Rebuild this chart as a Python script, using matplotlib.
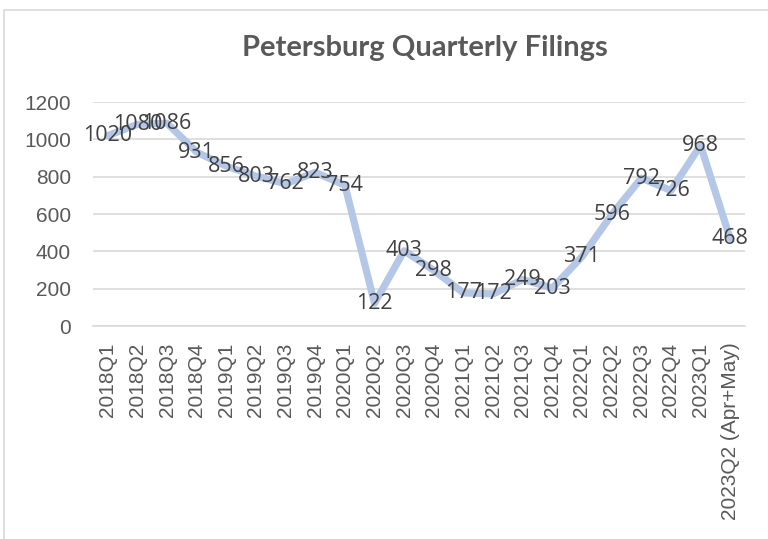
import matplotlib
matplotlib.use("Agg")
import matplotlib.pyplot as plt
from matplotlib.patches import Rectangle

categories = ["2018Q1", "2018Q2", "2018Q3", "2018Q4", "2019Q1", "2019Q2", "2019Q3", "2019Q4",
              "2020Q1", "2020Q2", "2020Q3", "2020Q4", "2021Q1", "2021Q2", "2021Q3", "2021Q4",
              "2022Q1", "2022Q2", "2022Q3", "2022Q4", "2023Q1", "2023Q2 (Apr+May)"]
filings = [1020, 1080, 1086, 931, 856, 803, 762, 823, 754, 122, 403, 298,
           177, 172, 249, 203, 371, 596, 792, 726, 968, 468]
yticks = [0, 200, 400, 600, 800, 1000, 1200]
title = "Petersburg Quarterly Filings"

W, H = 768, 539
fig = plt.figure(figsize=(W / 100, H / 100), dpi=100)
fig.patch.set_facecolor("white")

# chart frame
fig.add_artist(Rectangle((4 / W, -0.05), 1.1, 1 - 10 / H + 0.05, transform=fig.transFigure,
                         fill=False, edgecolor="#D9D9D9", linewidth=1.2))

ax = fig.add_axes([93 / W, 1 - 326 / H, (745 - 93) / W, (326 - 102) / H])
x = list(range(len(categories)))
ax.plot(x, filings, color="#B4C7E7", linewidth=5.2, solid_joinstyle="round",
        solid_capstyle="round", zorder=3)
for xi, v in zip(x, filings):
    ax.text(xi, v, str(v), ha="center", va="center", fontsize=15.5,
            family="Open Sans", color="#404040", zorder=4)

ax.set_xlim(-0.5, len(categories) - 0.5)
ax.set_ylim(0, 1200)
ax.set_yticks(yticks)
ax.set_yticklabels([str(t) for t in yticks])
ax.set_xticks(x)
ax.set_xticklabels(categories, rotation=90, va="top", ha="center")
ax.grid(axis="y", color="#D9D9D9", linewidth=1.2)
ax.set_axisbelow(True)
for s in ["top", "right", "left"]:
    ax.spines[s].set_visible(False)
ax.spines["bottom"].set_color("#D9D9D9")
ax.spines["bottom"].set_linewidth(1.2)
ax.tick_params(axis="both", length=0, labelsize=15, labelcolor="#595959")
ax.tick_params(axis="y", pad=16)
ax.tick_params(axis="x", pad=12)
for lab in ax.get_xticklabels() + ax.get_yticklabels():
    lab.set_family("Liberation Sans")

fig.text(0.553, 1 - 48 / H, title, ha="center", va="center", fontsize=21,
         fontweight="bold", family="Lato", color="#595959")

fig.savefig("out.png", dpi=100)
